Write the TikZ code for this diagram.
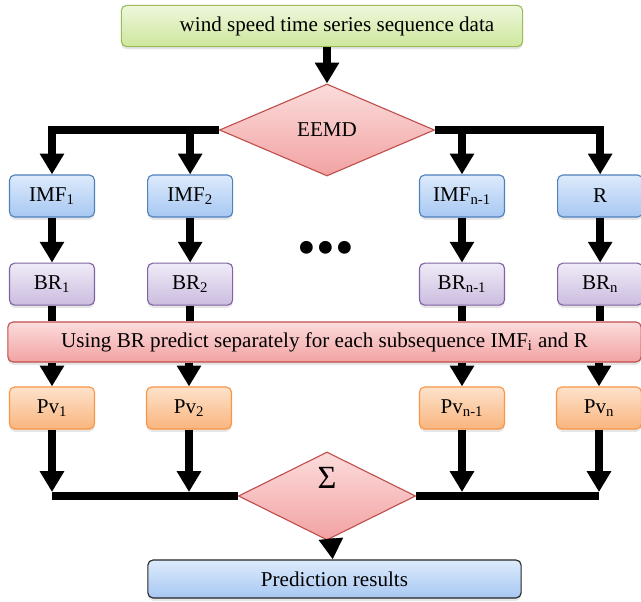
\documentclass[tikz,border=0pt]{standalone}
\usepackage{fontspec}
\setmainfont{Liberation Serif}
\usetikzlibrary{arrows.meta, positioning, shapes.geometric, shadows}

\definecolor{greenline}{HTML}{9BBB59}
\definecolor{greentop}{HTML}{EEF7DC}
\definecolor{greenbot}{HTML}{CDE79C}
\definecolor{redline}{HTML}{C0504D}
\definecolor{redtop}{HTML}{FCDCDC}
\definecolor{redbot}{HTML}{F2A2A2}
\definecolor{blueline}{HTML}{4F81BD}
\definecolor{bluetop}{HTML}{DDEBFC}
\definecolor{bluebot}{HTML}{A7C7F2}
\definecolor{purpleline}{HTML}{8064A2}
\definecolor{purpletop}{HTML}{F0EBF7}
\definecolor{purplebot}{HTML}{CBBCDF}
\definecolor{orangeline}{HTML}{F79646}
\definecolor{orangetop}{HTML}{FDE2CB}
\definecolor{orangebot}{HTML}{F9B57E}

\tikzset{
    flowarrow/.style = {line width=0.2cm, -{Triangle[width=0.58cm,length=0.52cm]}},
    flowline/.style = {line width=0.2cm},
    box/.style = {rectangle, rounded corners=0.13cm, line width=0.8pt, align=center,
        font=\fontsize{15}{18}\selectfont,
        drop shadow={shadow xshift=0pt, shadow yshift=-2pt, opacity=.2}},
    small/.style = {box, minimum width=2.125cm, minimum height=1.05cm},
    imfbox/.style = {small, draw=blueline, top color=bluetop, bottom color=bluebot},
    brbox/.style = {small, draw=purpleline, top color=purpletop, bottom color=purplebot},
    pvbox/.style = {small, draw=orangeline, top color=orangetop, bottom color=orangebot},
    decide/.style = {diamond, draw=redline, line width=0.8pt, inner sep=0pt,
        top color=redtop, bottom color=redbot, font=\fontsize{15}{18}\selectfont},
}

\begin{document}
\begin{tikzpicture}[x=0.025cm, y=0.025cm, line join=miter]
    \useasboundingbox (0,0) rectangle (641,-602);

    \node[box, draw=greenline, top color=greentop, bottom color=greenbot,
        minimum width=10.03cm, minimum height=1.03cm] (data) at (322,-26)
        {\hspace*{0.75cm}wind speed time series sequence data};
    \node[decide, minimum width=5.375cm, minimum height=2.3cm] (eemd) at (327,-130) {EEMD};

    \node[imfbox] (imf1) at (52,-196) {IMF\textsubscript{1}};
    \node[imfbox] (imf2) [right=1.3cm of imf1] {IMF\textsubscript{2}};
    \node[imfbox] (imfn1) at (462,-196) {IMF\textsubscript{n-1}};
    \node[imfbox] (res) [right=1.3cm of imfn1] {R};

    \node[brbox] (br1) [below=1.125cm of imf1] {BR\textsubscript{1}};
    \node[brbox] (br2) [below=1.125cm of imf2] {BR\textsubscript{2}};
    \node[brbox] (brn1) [below=1.125cm of imfn1] {BR\textsubscript{n-1}};
    \node[brbox] (brn) [below=1.125cm of res] {BR\textsubscript{n}};

    \node[font=\fontsize{38}{38}\selectfont] (dots) at (326,-253) {•••};

    \node[box, draw=redline, top color=redtop, bottom color=redbot,
        minimum width=15.83cm, minimum height=1.0cm] (usebr) at (324.5,-342)
        {Using BR predict separately for each subsequence IMF\textsubscript{i} and R};

    \node[pvbox] (pv1) at (52,-408) {Pv\textsubscript{1}};
    \node[pvbox] (pv2) at (189,-408) {Pv\textsubscript{2}};
    \node[pvbox] (pvn1) at (462,-408) {Pv\textsubscript{n-1}};
    \node[pvbox] (pvn) at (599,-408) {Pv\textsubscript{n}};

    \node[decide, minimum width=4.43cm, minimum height=2.2cm] (sum) at (327,-496)
        {\raisebox{0.9cm}{\fontsize{23}{23}\selectfont Σ}};

    \node[box, draw=black!85, top color=bluetop, bottom color=bluebot,
        minimum width=9.33cm, minimum height=0.95cm] (result) at (334.5,-579)
        {Prediction results};

    % split into sub-series
    \draw[flowarrow] (data.south -| eemd.north) -- (eemd);
    \draw[flowarrow] (eemd.west) -| (imf1);
    \draw[flowarrow] (eemd.west) -| (imf2);
    \draw[flowarrow] (eemd.east) -| (imfn1);
    \draw[flowarrow] (eemd.east) -| (res);

    \draw[flowarrow] (imf1) -- (br1);
    \draw[flowarrow] (imf2) -- (br2);
    \draw[flowarrow] (imfn1) -- (brn1);
    \draw[flowarrow] (res) -- (brn);

    \draw[flowline] (br1) -- (br1 |- usebr.north);
    \draw[flowline] (br2) -- (br2 |- usebr.north);
    \draw[flowline] (brn1) -- (brn1 |- usebr.north);
    \draw[flowline] (brn) -- (brn |- usebr.north);

    \draw[flowarrow] (pv1 |- usebr.south) -- (pv1);
    \draw[flowarrow] (pv2 |- usebr.south) -- (pv2);
    \draw[flowarrow] (pvn1 |- usebr.south) -- (pvn1);
    \draw[flowarrow] (pvn |- usebr.south) -- (pvn);

    % collect predictions
    \draw[flowline] (pv1.center |- sum.west) -- (sum.west);
    \draw[flowline] (sum.east) -- (pvn.center |- sum.east);
    \draw[flowarrow, shorten >=0.1cm] (pv1) -- (pv1 |- sum.west);
    \draw[flowarrow, shorten >=0.1cm] (pv2) -- (pv2 |- sum.west);
    \draw[flowarrow, shorten >=0.1cm] (pvn1) -- (pvn1 |- sum.east);
    \draw[flowarrow, shorten >=0.1cm] (pvn) -- (pvn |- sum.east);

    \draw[flowarrow] (sum) -- (result);
\end{tikzpicture}
\end{document}
